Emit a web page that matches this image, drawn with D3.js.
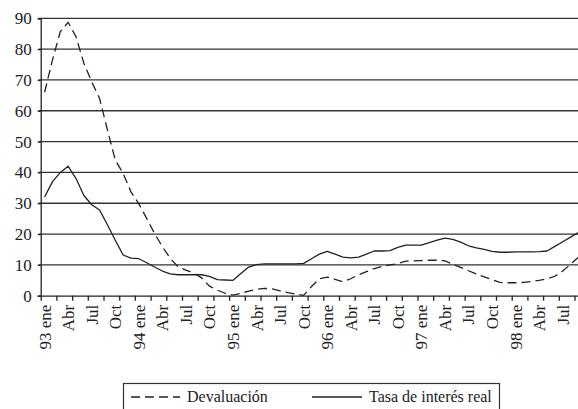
<!DOCTYPE html>
<html>
<head>
<meta charset="utf-8">
<script src="https://cdn.jsdelivr.net/npm/d3@7"></script>
<style>
  body { margin: 0; background: #fff; }
</style>
</head>
<body>
<svg id="chart" width="578" height="409"></svg>
<script>
// categorias mensuales, 93 ene a 98 sep
var meses = ["93 ene","feb","mar","abr","may","jun","jul","ago","sep","oct","nov","dic",
  "94 ene","feb","mar","abr","may","jun","jul","ago","sep","oct","nov","dic",
  "95 ene","feb","mar","abr","may","jun","jul","ago","sep","oct","nov","dic",
  "96 ene","feb","mar","abr","may","jun","jul","ago","sep","oct","nov","dic",
  "97 ene","feb","mar","abr","may","jun","jul","ago","sep","oct","nov","dic",
  "98 ene","feb","mar","abr","may","jun","jul","ago","sep"]

// etiquetas visibles, una cada tres meses
var etiquetas = ["93 ene","Abr","Jul","Oct","94 ene","Abr","Jul","Oct",
  "95 ene","Abr","Jul","Oct","96 ene","Abr","Jul","Oct",
  "97 ene","Abr","Jul","Oct","98 ene","Abr","Jul"]

var devaluacion = [66, 76.5, 85.7, 88.7, 84, 75.4, 69.4, 64, 53.8, 44, 39.7, 33.7,
  29.8, 25.1, 20.2, 15.9, 12.1, 9.4, 8.3, 7.3, 5.8, 3.1, 1.8, 0.8,
  0.2, 0.8, 1.5, 2.1, 2.4, 2.2, 1.6, 1.0, 0.5, 0.1, 3, 5.5,
  6, 5.3, 4.5, 5.5, 6.8, 7.8, 8.8, 9.5, 10, 10.4, 11.2, 11.3,
  11.4, 11.5, 11.5, 11.3, 10.2, 9.2, 8.1, 7, 6.1, 5.2, 4.3, 4.2,
  4.2, 4.3, 4.6, 5, 5.5, 6.3, 8, 10.2, 12.5]

var tasaReal = [32, 37, 40, 42, 38, 32.5, 29.5, 27.8, 23, 18, 13.2, 12.2,
  12, 10.7, 9.3, 8, 7.1, 6.8, 6.8, 6.8, 6.8, 6.3, 5.2, 5.1,
  5, 7.2, 9.3, 10.1, 10.3, 10.3, 10.3, 10.3, 10.3, 10.5, 12, 13.5,
  14.4, 13.5, 12.5, 12.3, 12.5, 13.5, 14.5, 14.5, 14.6, 15.7, 16.4, 16.4,
  16.4, 17.2, 18, 18.7, 18.3, 17.4, 16.2, 15.5, 15, 14.4, 14.1, 14.1,
  14.2, 14.2, 14.2, 14.3, 14.5, 16, 17.5, 19, 20.5]

var yTicks = [0, 10, 20, 30, 40, 50, 60, 70, 80, 90]

var serif = '"Liberation Serif", Tinos, "Times New Roman", "DejaVu Serif", serif'
var fontSize = "16px"

var svg = d3.select("svg#chart")
var margin = {left: 40.7, top: 18.3, bottom: 295.7}
var step = 7.85

var x = d3.scaleLinear()
    .domain([0, meses.length])
    .range([margin.left, margin.left + meses.length * step])
var y = d3.scaleLinear()
    .domain([0, 90])
    .range([margin.bottom, margin.top])

// lineas de grilla
svg.append("g")
  .selectAll("line")
  .data(yTicks.slice(1))
  .enter()
  .append("line")
    .attr("x1", margin.left - 2)
    .attr("x2", 578)
    .attr("y1", d => y(d))
    .attr("y2", d => y(d))
    .attr("stroke", "#333")
    .attr("stroke-width", 1.3)

// eje y
var yAxis = g => g
    .attr("transform", `translate(${margin.left},0)`)
    .attr("font-family", serif)
    .call(d3.axisLeft(y).tickValues(yTicks).tickSize(3).tickPadding(6))
    .call(g => g.selectAll("text")
        .style("font-family", serif).style("font-size", "17px").attr("fill", "#222"))
    .call(g => g.selectAll("line, path").attr("stroke", "#222").attr("stroke-width", 1.3))
svg.append("g").call(yAxis)

// eje x: marcas cada dos meses
var xTickVals = d3.range(0, meses.length + 1, 2)
var xAxis = g => g
    .attr("transform", `translate(0,${margin.bottom})`)
    .call(d3.axisBottom(x).tickValues(xTickVals).tickFormat("").tickSize(5).tickSizeOuter(0))
    .call(g => g.selectAll("line, path").attr("stroke", "#222").attr("stroke-width", 1.3))
svg.append("g").call(xAxis)

// etiquetas rotadas cada tres meses
svg.append("g")
  .selectAll("text")
  .data(etiquetas)
  .enter()
  .append("text")
    .attr("transform", (d, i) => `translate(${x(i * 3 + 0.5)},${margin.bottom + 9}) rotate(-90)`)
    .attr("text-anchor", "end")
    .attr("dy", "0.35em")
    .attr("fill", "#222")
    .style("font-family", serif)
    .style("font-size", "17px")
    .text(d => d)

var line = d3.line()
    .x((d, i) => x(i + 0.5))
    .y(d => y(d))

svg.append("path")
    .attr("d", line(devaluacion))
    .attr("fill", "none")
    .attr("stroke", "#222")
    .attr("stroke-width", 1.3)
    .attr("stroke-dasharray", "9,5")

svg.append("path")
    .attr("d", line(tasaReal))
    .attr("fill", "none")
    .attr("stroke", "#222")
    .attr("stroke-width", 1.3)
    .attr("stroke-linejoin", "round")

// leyenda
var leg = svg.append("g")
leg.append("rect")
    .attr("x", 123.5).attr("y", 383.5)
    .attr("width", 376).attr("height", 40)
    .attr("fill", "none")
    .attr("stroke", "#333")
    .attr("stroke-width", 1.2)
leg.append("line")
    .attr("x1", 131).attr("x2", 180).attr("y1", 397).attr("y2", 397)
    .attr("stroke", "#222").attr("stroke-width", 1.3).attr("stroke-dasharray", "9,5")
leg.append("text")
    .attr("x", 187).attr("y", 402)
    .attr("fill", "#222")
    .style("font-family", serif).style("font-size", fontSize)
    .text("Devaluación")
leg.append("line")
    .attr("x1", 312).attr("x2", 362).attr("y1", 397).attr("y2", 397)
    .attr("stroke", "#222").attr("stroke-width", 1.3)
leg.append("text")
    .attr("x", 369).attr("y", 402)
    .attr("fill", "#222")
    .style("font-family", serif).style("font-size", fontSize)
    .text("Tasa de interés real")
</script>
</body>
</html>
